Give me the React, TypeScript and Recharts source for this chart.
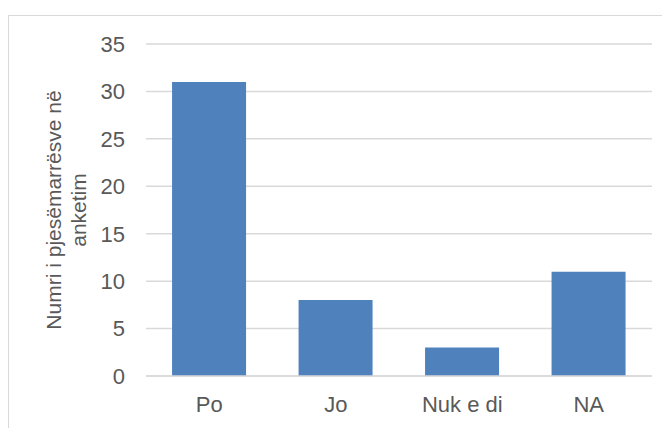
import React from "react";
import { BarChart, Bar, XAxis, YAxis, CartesianGrid } from "recharts";

const categories = ["Po", "Jo", "Nuk e di", "NA"];
const values = [31, 8, 3, 11];
const yTicks = [0, 5, 10, 15, 20, 25, 30, 35];
const yLabelLines = ["Numri i pjesëmarrësve në", "anketim"];

const data = categories.map((c, i) => ({ name: c, value: values[i] }));

const FONT = "'Liberation Sans', Arial, sans-serif";
const TEXT = "#595959";

const YLabel = () => (
  <text
    transform="rotate(-90)"
    textAnchor="middle"
    fontFamily={FONT}
    fontSize={21}
    fill={TEXT}
  >
    <tspan x={-194} y={52}>{yLabelLines[0]}</tspan>
    <tspan x={-194} y={77}>{yLabelLines[1]}</tspan>
  </text>
);

export default function App() {
  return (
    <div
      style={{
        marginTop: 7,
        width: 662,
        height: 413,
        boxSizing: "border-box",
        borderLeft: "1px solid #d9d9d9",
        borderTop: "1px solid #d9d9d9",
        background: "#fff",
        overflow: "hidden",
      }}
    >
      <BarChart
        width={661}
        height={412}
        data={data}
        margin={{ top: 28, right: 18, bottom: 0, left: 0 }}
        barCategoryGap="20.6%"
      >
        <CartesianGrid vertical={false} stroke="#d9d9d9" strokeWidth={1.5} />
        <XAxis
          dataKey="name"
          axisLine={{ stroke: "#d9d9d9", strokeWidth: 1.5 }}
          tickLine={false}
          tickSize={0}
          tickMargin={20}
          height={52}
          interval={0}
          tick={{ fill: TEXT, fontSize: 22, fontFamily: FONT }}
        />
        <YAxis
          width={137}
          domain={[0, 35]}
          ticks={yTicks}
          axisLine={false}
          tickLine={false}
          tickSize={0}
          tickMargin={21}
          interval={0}
          tick={{ fill: TEXT, fontSize: 22, fontFamily: FONT }}
          label={<YLabel />}
        />
        <Bar dataKey="value" fill="#4f81bd" isAnimationActive={false} />
      </BarChart>
    </div>
  );
}
